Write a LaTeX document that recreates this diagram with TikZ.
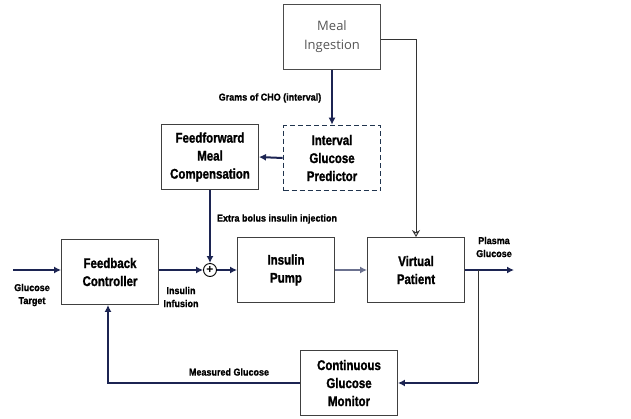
\documentclass[tikz,border=0pt]{standalone}
\usepackage{fontspec}
\setmainfont{Liberation Sans}
\newfontfamily\mealfont{Open Sans}
\newfontfamily\blkfont[FakeStretch=0.82, BoldFeatures={FakeBold=1.3}]{Liberation Sans}
\newfontfamily\lblfont[FakeStretch=0.9, BoldFeatures={FakeBold=1.2}]{Liberation Sans}
\usetikzlibrary{arrows.meta}
\definecolor{navy}{RGB}{28,36,82}
\definecolor{slate}{RGB}{32,52,78}
\definecolor{mealgray}{RGB}{85,85,85}
\tikzset{
	blk/.style={draw=black!75, line width=0.9pt, minimum width=97pt, minimum height=65pt, inner sep=0pt, align=center, font=\blkfont\bfseries\fontsize{14}{18}\selectfont},
	flow/.style={draw=navy, line width=2pt, -{Latex[length=7pt,width=7pt]}},
	wire/.style={draw=black!80, line width=0.9pt},
	lbl/.style={font=\lblfont\bfseries\fontsize{10}{13}\selectfont, align=center, inner sep=0pt}
}

\begin{document}
\begin{tikzpicture}[x=1pt, y=-1pt]
			%%%%% START %%%%%
			\useasboundingbox (0, 0) rectangle (631, 418);
			
			% blocks
			\node[blk, draw=black!70, font=\mealfont\fontsize{13}{19}\selectfont, text=mealgray] (meal) at (332, 37) {Meal\\Ingestion};
			\node[blk, draw=slate, dashed, dash pattern=on 5pt off 3pt, line width=1.6pt] (igp) at (332, 158) {Interval\\Glucose\\Predictor};
			\node[blk] (ffc) at (210, 157) {Feedforward\\Meal\\Compensation};
			\node[blk] (fbc) at (110, 272) {Feedback\\Controller};
			\node[blk] (pump) at (286, 270) {Insulin\\Pump};
			\node[blk] (vp) at (416, 270) {Virtual\\Patient};
			\node[blk] (cgm) at (349, 383) {Continuous\\Glucose\\Monitor};
			\node[circle, draw=black, line width=0.9pt, minimum size=13pt, inner sep=0pt, font=\bfseries\large] (sum) at (210, 270) {+};
			
			\coordinate (gt) at (13, 270);
			\coordinate (out) at (514, 270);
			\coordinate (tap) at (478, 270);
			\coordinate (corner) at (478, 383);
			
			% feedforward path
			\draw[flow] (meal.south) -- (igp.north);
			\draw[flow] (igp.west) -- (ffc.east);
			\draw[flow] (ffc.south) -- (sum.north);
			\draw[wire, -{Stealth[open, length=7pt, width=8pt]}] ([yshift=-2pt]meal.east) -| (vp.north);
			
			% main loop
			\draw[flow] (gt) -- (gt -| fbc.west);
			\draw[flow] (fbc.east |- sum.west) -- (sum.west);
			\draw[flow] (sum.east) -- (pump.west);
			\draw[flow, draw=navy!65] (pump.east) -- (vp.west);
			\draw[flow] (vp.east) -- (out);
			
			% feedback
			\draw[wire] (tap) -- (corner);
			\draw[flow] (corner) -- (cgm.east);
			\draw[draw=navy, line width=1.3pt, -{Latex[length=7pt,width=7pt]}] (cgm.west) -| ([xshift=-2pt]fbc.south);
			
			% labels
			\node[lbl] (cho) at (270, 98) {Grams of CHO (interval)};
			\node[lbl] (bolus) at (277, 219) {Extra bolus insulin injection};
			\node[lbl] (target) at (32, 295) {Glucose\\Target};
			\node[lbl] (infusion) at (181, 297) {Insulin\\Infusion};
			\node[lbl] (plasma) at (494, 247) {Plasma\\Glucose};
			\node[lbl] (measured) at (229, 372) {Measured Glucose};
			%%%%% END %%%%%
\end{tikzpicture}
\end{document}
